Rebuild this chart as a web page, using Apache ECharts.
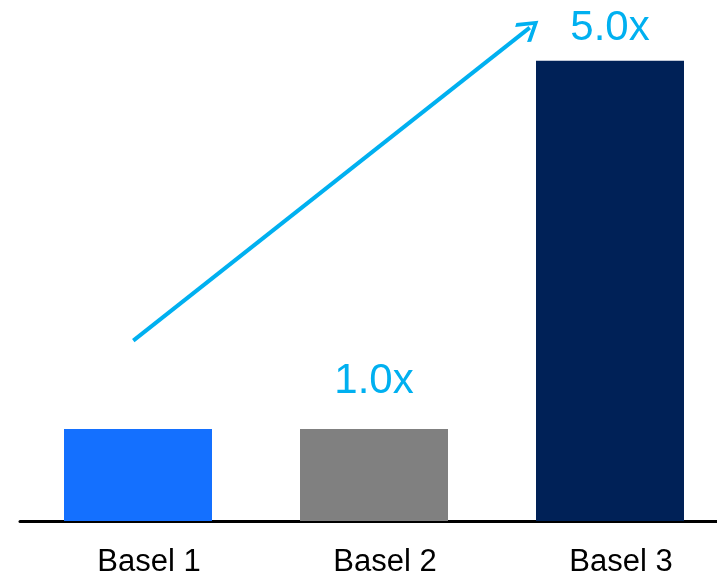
<!DOCTYPE html>
<html>
<head>
<meta charset="utf-8">
<script src="https://cdn.jsdelivr.net/npm/echarts@6/dist/echarts.min.js"></script>
<style>
  html, body { margin: 0; padding: 0; background: #fff; }
  #chartmain { width: 717px; height: 574px; }
</style>
</head>
<body>
<div id="chartmain"></div>
<script>
var categories = ['Basel 1', 'Basel 2', 'Basel 3'];
var values = [1, 1, 5];
var valueLabels = ['', '1.0x', '5.0x'];
var barColors = ['#1470FF', '#808080', '#002157'];
// arrow ends in data units: [category position, value]
var arrowFrom = [-0.02, 1.96];
var arrowTo = [1.66, 5.36];

var labelGap = [0, 27, 11];

var barData = values.map(function(v, i) {
	return {
		value: v,
		itemStyle: { color: barColors[i] },
		label: {
			show: valueLabels[i] !== '',
			distance: labelGap[i],
			formatter: valueLabels[i]
		}
	};
});

var option = {
	animation: false,
	grid: {
		left: 20,
		width: 708,
		top: 0,
		bottom: 53,
		outerBoundsMode: 'none',
		containLabel: false
	},
	xAxis: [{
		type: 'category',
		data: categories,
		axisLine: { show: true, lineStyle: { color: '#000', width: 3 } },
		axisTick: { show: false },
		axisLabel: {
			margin: 26,
			padding: [0, 0, 0, 22],
			color: '#000',
			fontSize: 31,
			fontFamily: 'Liberation Sans'
		}
	}, {
		type: 'value',
		min: -0.5,
		max: 2.5,
		show: false
	}],
	yAxis: {
		type: 'value',
		min: 0,
		max: 5.66,
		show: false
	},
	series: [{
		name: 'bars',
		type: 'bar',
		barWidth: 148,
		data: barData,
		label: {
			position: 'top',
			color: '#00B0F0',
			fontSize: 42,
			fontFamily: 'Liberation Sans'
		}
	}, {
		name: 'arrow',
		type: 'line',
		xAxisIndex: 1,
		data: [],
		clip: false,
		markLine: {
			silent: true,
			symbol: ['none', 'path://M0,0 L10,11 L8,13 L0,4 L-8,13 L-10,11 Z'],
			symbolSize: [24, 22],
			label: { show: false },
			lineStyle: { color: '#00B0F0', width: 4, type: 'solid' },
			data: [[
				{ coord: arrowFrom },
				{ coord: arrowTo }
			]]
		}
	}]
};

var myChart = echarts.init(document.getElementById('chartmain'));
myChart.setOption(option);
</script>
</body>
</html>
